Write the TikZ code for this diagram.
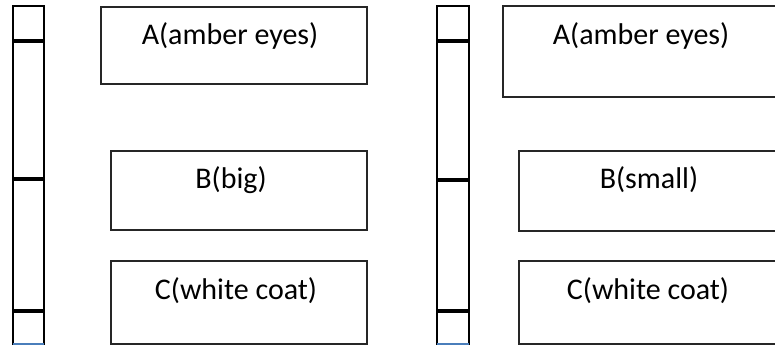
\documentclass[tikz,border=0pt]{standalone}
\usepackage{fontspec}
\setmainfont{Carlito}
\definecolor{endblue}{HTML}{4A7EBB}
\begin{document}
\begin{tikzpicture}[x=1pt,y=-1pt,
  trait/.style={draw=black!85, line width=1.1pt, inner sep=0pt},
  traittext/.style={anchor=base, inner sep=0pt, font=\fontsize{30}{36}\selectfont},
  chromo/.style={line width=2pt, line cap=rect},
  band/.style={line width=3.2pt},
  endline/.style={draw=endblue, line width=1.6pt}]
\clip (0,0) rectangle (775,348);
\fill[white] (0,0) rectangle (775,348);

% left chromosome with three bands
\coordinate (l1) at (13,344);
\coordinate (l2) at (13,6);
\coordinate (l3) at (44,6);
\coordinate (l4) at (44,344);
\draw[chromo] (l1) -- (l2) -- (l3) -- (l4);
\draw[endline] (l1) -- (l4);
\draw[band] (13,41) -- (44,41);
\draw[band] (13,179) -- (44,179);
\draw[band] (13,311) -- (44,311);

% right chromosome with three bands
\coordinate (r1) at (437,344);
\coordinate (r2) at (437,6);
\coordinate (r3) at (469,6);
\coordinate (r4) at (469,344);
\draw[chromo] (r1) -- (r2) -- (r3) -- (r4);
\draw[endline] (r1) -- (r4);
\draw[band] (437,41) -- (469,41);
\draw[band] (437,180) -- (469,180);
\draw[band] (437,311) -- (469,311);

% left trait boxes
\draw[trait] (101,7) rectangle (367,84);
\draw[trait] (111,151) rectangle (367,230);
\draw[trait] (111,261) rectangle (367,344);
\node[traittext] (aL) at (230,44) {A(amber eyes)};
\node[traittext] (bL) at (231,188) {B(big)};
\node[traittext] (cL) at (236,299) {C(white coat)};

% right trait boxes, running past the right edge
\draw[trait] (503,6) rectangle (790,97);
\draw[trait] (519,151) rectangle (790,231);
\draw[trait] (519,261) rectangle (790,344);
\node[traittext] (aR) at (641,44) {A(amber eyes)};
\node[traittext] (bR) at (649,188) {B(small)};
\node[traittext] (cR) at (648,299) {C(white coat)};
\end{tikzpicture}
\end{document}
